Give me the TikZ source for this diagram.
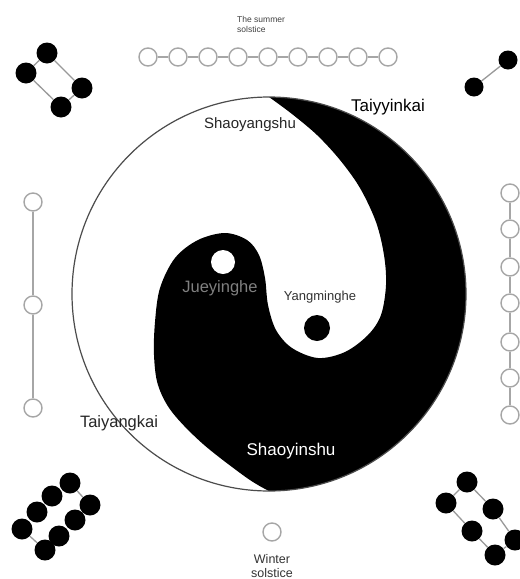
\documentclass[tikz,border=0pt]{standalone}
\usepackage{fontspec}
\setmainfont{Liberation Sans}
\begin{document}
\begin{tikzpicture}[x=1pt,y=-1pt,
  hollow/.style={circle,draw=black!35,line width=1.4pt,fill=white,minimum size=18pt,inner sep=0pt},
  bdot/.style={circle,fill=black,minimum size=21pt,inner sep=0pt},
  link/.style={draw=black!35,line width=1.4pt},
  blink/.style={draw=black!40,line width=1.3pt},
  lab/.style={inner sep=0pt,font=\fontsize{#1}{#1}\selectfont},
  lab/.default=16]
\useasboundingbox (0,0) rectangle (520,579);
\fill[white] (0,0) rectangle (520,579);

% Yin-yang
\fill[black] (269,97) arc[start angle=-90,end angle=90,radius=197]
  -- plot[smooth,tension=0.55] coordinates {(269,491) (247,478) (203,444) (172,412) (158,385) (154,355) (155,322) (160,288) (175,258) (198,240) (225,233) (247,240) (259,255) (265,278) (268,305) (276,330) (292,348) (318,358) (345,352) (368,335) (381,315) (386,285) (384,255) (376,222) (360,188) (340,160) (317,135) (292,114) (269,97)} -- cycle;
\draw[black!70,line width=1.2pt] (269,294) circle[radius=197];
\node[circle,fill=white,minimum size=24pt,inner sep=0pt] (wdot) at (223,262) {};
\node[circle,fill=black,minimum size=26pt,inner sep=0pt] (kdot) at (317,328) {};

% labels in circle
\node[lab=15,text=black!85] (shaoyang) at (250,125) {Shaoyangshu};
\node[lab=17,text=black] (taiyin) at (388,107) {Taiyyinkai};
\node[lab=16.5,text=black!50] (jue) at (220,288) {Jueyinghe};
\node[lab=13,text=black!80] (yangming) at (320,297) {Yangminghe};
\node[lab=16.5,text=black!85] (taiyang) at (119,423) {Taiyangkai};
\node[lab=17,text=white] (shaoyin) at (291,451) {Shaoyinshu};

% summer solstice
\node[lab=8.5,text=black!75,anchor=west] (sum1) at (237,19) {The summer};
\node[lab=8.5,text=black!75,anchor=west] (sum2) at (237,29) {solstice};
\foreach \i in {1,...,9} {
  \node[hollow] (t\i) at ({118+30*\i},57) {};
}
\foreach \i [evaluate=\i as \j using int(\i+1)] in {1,...,8} {
  \draw[link] (t\i) -- (t\j);
}

% left column
\node[hollow] (l1) at (33,202) {};
\node[hollow] (l2) at (33,305) {};
\node[hollow] (l3) at (33,408) {};
\draw[link] (l1) -- (l2) (l2) -- (l3);

% right column
\foreach \i/\y in {1/193,2/229,3/267,4/303,5/342,6/378,7/415} {
  \node[hollow] (r\i) at (510,\y) {};
}
\foreach \i [evaluate=\i as \j using int(\i+1)] in {1,...,6} {
  \draw[link] (r\i) -- (r\j);
}

% winter solstice
\node[hollow] (w) at (272,532) {};
\node[lab=12.5,text=black!80,align=center] (wtext) at (272,566) {Winter\\[1pt]solstice};

% top-left group
\node[bdot] (a1) at (47,53) {};
\node[bdot] (a2) at (26,73) {};
\node[bdot] (a3) at (61,107) {};
\node[bdot] (a4) at (82,88) {};
\draw[blink] (a1) -- (a2) (a2) -- (a3) (a3) -- (a4) (a4) -- (a1);

% top-right group
\node[bdot,minimum size=19pt] (b1) at (508,60) {};
\node[bdot,minimum size=19pt] (b2) at (474,87) {};
\draw[blink] (b1) -- (b2);

% bottom-left group
\node[bdot] (c1) at (70,483) {};
\node[bdot] (c2) at (52,496) {};
\node[bdot] (c3) at (37,512) {};
\node[bdot] (c4) at (22,529) {};
\node[bdot] (d1) at (90,505) {};
\node[bdot] (d2) at (75,520) {};
\node[bdot] (d3) at (59,536) {};
\node[bdot] (d4) at (45,550) {};
\draw[blink] (c1) -- (d1) (c4) -- (d4);

% bottom-right group
\node[bdot] (e1) at (467,482) {};
\node[bdot] (e2) at (446,503) {};
\node[bdot] (e3) at (493,509) {};
\node[bdot] (e4) at (472,531) {};
\node[bdot] (e5) at (515,540) {};
\node[bdot] (e6) at (495,555) {};
\draw[blink] (e1) -- (e2) (e1) -- (e3) (e2) -- (e4) (e3) -- (e5) (e4) -- (e6) (e5) -- (e6);
\end{tikzpicture}
\end{document}
